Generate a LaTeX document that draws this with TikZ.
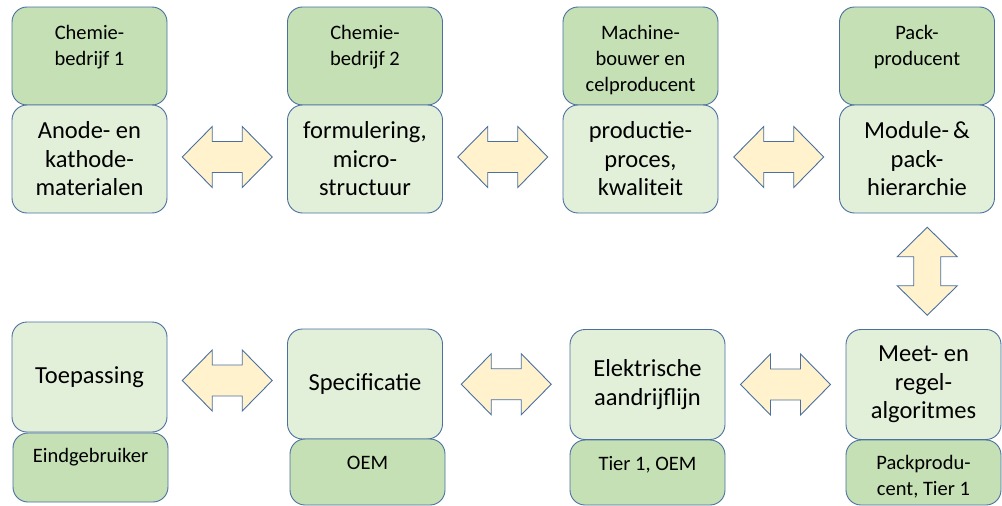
\documentclass[tikz,border=0pt]{standalone}
\usepackage{fontspec}
\setmainfont{Carlito}
\usetikzlibrary{positioning,calc}

\definecolor{rolfill}{HTML}{C5E0B4}
\definecolor{topicfill}{HTML}{E2F0D9}
\definecolor{randkleur}{HTML}{4A6FA0}
\definecolor{pijlfill}{HTML}{FFF2CC}

\tikzset{
  rolbox/.style={draw=randkleur,fill=rolfill,line width=0.9pt,rounded corners=15pt,%
    minimum width=155pt,inner sep=0pt},
  topicbox/.style={draw=randkleur,fill=topicfill,line width=0.9pt,rounded corners=15pt,%
    minimum width=155pt,inner sep=0pt,align=center,%
    font=\fontsize{24.5}{28.5}\selectfont},
  roltxt/.style={inner sep=0pt,align=center,font=\fontsize{20.5}{26}\selectfont},
  pijl/.style={draw=randkleur,fill=pijlfill,line width=0.9pt,line join=miter}
}

% dubbele blokpijl rond een benoemd punt
\newcommand{\hpijl}[1]{%
  \draw[pijl,shift={(#1)}] (-45,0) -- (-15,-30.5) -- (-15,-15.5) -- (15,-15.5) --
    (15,-30.5) -- (45,0) -- (15,30.5) -- (15,15.5) -- (-15,15.5) -- (-15,30.5) -- cycle ;}
\newcommand{\vpijl}[1]{%
  \draw[pijl,shift={(#1)}] (0,-44) -- (30,-14.5) -- (13.5,-14.5) -- (13.5,14.5) --
    (30,14.5) -- (0,44) -- (-30,14.5) -- (-13.5,14.5) -- (-13.5,-14.5) -- (-30,-14.5) -- cycle ;}

\begin{document}
\begin{tikzpicture}[x=1pt,y=-1pt]
    \useasboundingbox (0,0) rectangle (1002,506) ;
    % bovenste rij
    \node[rolbox,minimum height=98pt] (chem1) at (89.5,56) {} ;
    \node[rolbox,minimum height=98pt] (chem2) at (365,56) {} ;
    \node[rolbox,minimum height=98pt] (cel) at (640.5,56) {} ;
    \node[rolbox,minimum height=98pt] (pack) at (917,56) {} ;
    \node[roltxt,below=18.5pt of chem1.north] (chem1t) {Chemie-\\bedrijf 1} ;
    \node[roltxt,below=18.5pt of chem2.north] (chem2t) {Chemie-\\bedrijf 2} ;
    \node[roltxt,below=18.5pt of cel.north] (celt) {Machine-\\bouwer en\\celproducent} ;
    \node[roltxt,below=18.5pt of pack.north] (packt) {Pack-\\producent} ;
    \node[topicbox,minimum height=108pt] (mat) at (89.5,159) {Anode- en\\kathode-\\materialen} ;
    \node[topicbox,minimum height=108pt] (form) at (365,159) {formulering,\\micro-\\structuur} ;
    \node[topicbox,minimum height=108pt] (proc) at (640.5,159) {productie-\\proces,\\kwaliteit} ;
    \node[topicbox,minimum height=108pt] (modpack) at (917,159) {Module-\,\&\\pack-\\hierarchie} ;
    % onderste rij
    \node[topicbox,minimum height=110pt] (toep) at (89.5,377) {Toepassing} ;
    \node[topicbox,minimum height=110pt] (spec) at (365,384) {Specificatie} ;
    \node[topicbox,minimum height=110pt] (aandr) at (647.5,384.5) {Elektrische\\aandrijflijn} ;
    \node[topicbox,minimum height=110pt] (meet) at (923.5,384.5) {Meet- en\\regel-\\algoritmes} ;
    \node[rolbox,minimum height=69pt] (eind) at (90.5,467.5) {} ;
    \node[rolbox,minimum height=66pt] (oem) at (367.5,472) {} ;
    \node[rolbox,minimum height=65pt] (tier) at (647.5,472.5) {} ;
    \node[rolbox,minimum height=65pt] (packtier) at (923.5,472.5) {} ;
    \node[roltxt,below=16pt of eind.north] (eindt) {Eindgebruiker} ;
    \node[roltxt,below=17pt of oem.north] (oemt) {OEM} ;
    \node[roltxt,below=17pt of tier.north] (tiert) {Tier 1, OEM} ;
    \node[roltxt,below=15.5pt of packtier.north] (packtiert) {Packprodu-\\cent, Tier 1} ;
    % dubbele pijlen
    \coordinate (p1) at ($(mat.east)!0.5!(form.west)+(0,-2)$) ;
    \coordinate (p2) at ($(form.east)!0.5!(proc.west)+(0,-2)$) ;
    \coordinate (p3) at ($(proc.east)!0.5!(modpack.west)+(0,-2)$) ;
    \coordinate (p4) at ($(modpack.south)!0.5!(meet.north)+(7,0)$) ;
    \coordinate (p5) at ($(meet.west)!0.5!(aandr.east)$) ;
    \coordinate (p6) at ($(aandr.west)!0.5!(spec.east)$) ;
    \coordinate (p7) at ($(spec.west)!0.5!(toep.east)$) ;
    \hpijl{p1} \hpijl{p2} \hpijl{p3}
    \vpijl{p4}
    \hpijl{p5} \hpijl{p6} \hpijl{p7}
\end{tikzpicture}
\end{document}
